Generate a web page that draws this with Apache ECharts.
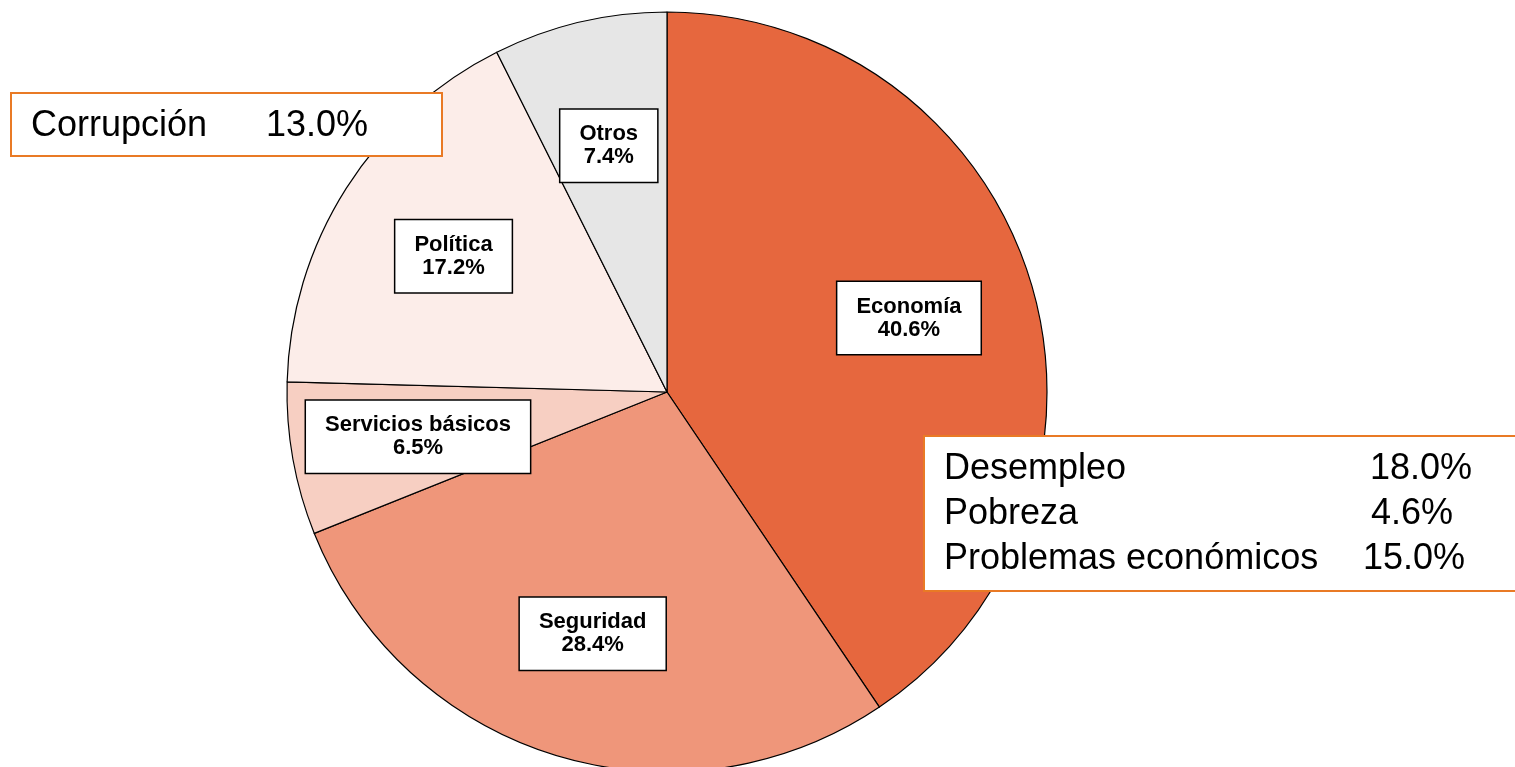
<!DOCTYPE html>
<html>
<head>
<meta charset="utf-8">
<style>
  html, body { margin: 0; padding: 0; background: #fff; }
  #chart { width: 1515px; height: 767px; }
</style>
<script src="https://cdn.jsdelivr.net/npm/echarts@6/dist/echarts.min.js"></script>
</head>
<body>
<div id="chart"></div>
<script>
// datos del gráfico
var categories = ['Economía', 'Seguridad', 'Servicios básicos', 'Política', 'Otros'];
var values = [40.6, 28.4, 6.5, 17.2, 7.4];
var sliceColors = ['#E6673E', '#EF967A', '#F7CFC2', '#FCEDE9', '#E6E6E6'];

// desglose de Política
var politicaItems = ['Corrupción'];
var politicaValues = [13.0];

// desglose de Economía
var economiaItems = ['Desempleo', 'Pobreza', 'Problemas económicos'];
var economiaValues = [18.0, 4.6, 15.0];

var FONT = '"Liberation Sans", Arial, sans-serif';
var ORANGE = '#E97A25';

var myChart = echarts.init(document.getElementById('chart'));

var pieData = categories.map(function (name, i) {
    return { name: name, value: values[i], itemStyle: { color: sliceColors[i] } };
});
// mismos datos sin color, para el anillo de etiquetas
var labelData = categories.map(function (name, i) {
    return { name: name, value: values[i] };
});

// textos de los cuadros de anotación
var graphics = [];
graphics.push({
    type: 'rect', z: 100,
    shape: { x: 11, y: 93, width: 431, height: 63 },
    style: { fill: '#fff', stroke: ORANGE, lineWidth: 2 }
});
politicaItems.forEach(function (name, i) {
    var y = 126 + i * 45;
    graphics.push({
        type: 'text', z: 101, x: 31, y: y,
        style: { text: name, font: '36px ' + FONT, fill: '#000', verticalAlign: 'middle' }
    });
    graphics.push({
        type: 'text', z: 101, x: 266, y: y,
        style: { text: politicaValues[i].toFixed(1) + '%', font: '36px ' + FONT, fill: '#000', verticalAlign: 'middle' }
    });
});

graphics.push({
    type: 'rect', z: 100,
    shape: { x: 924, y: 436, width: 620, height: 155 },
    style: { fill: '#fff', stroke: ORANGE, lineWidth: 2 }
});
var valueX = [1370, 1371, 1363];
economiaItems.forEach(function (name, i) {
    var y = 469 + i * 45;
    graphics.push({
        type: 'text', z: 101, x: 944, y: y,
        style: { text: name, font: '36px ' + FONT, fill: '#000', verticalAlign: 'middle' }
    });
    graphics.push({
        type: 'text', z: 101, x: valueX[i], y: y,
        style: { text: economiaValues[i].toFixed(1) + '%', font: '36px ' + FONT, fill: '#000', verticalAlign: 'middle' }
    });
});

var option = {
    backgroundColor: '#fff',
    animation: false,
    series: [
        {
            // pastel con los sectores
            type: 'pie',
            center: [667, 392],
            radius: [0, 380],
            startAngle: 90,
            clockwise: true,
            silent: true,
            data: pieData,
            itemStyle: { borderColor: '#000', borderWidth: 1.2 },
            label: { show: false },
            labelLine: { show: false },
            emphasis: { disabled: true }
        },
        {
            // anillo transparente, solo para colocar las etiquetas más afuera
            type: 'pie',
            center: [667, 392],
            radius: [120, 380],
            startAngle: 90,
            clockwise: true,
            silent: true,
            data: labelData,
            itemStyle: { color: 'rgba(0,0,0,0)', borderWidth: 0 },
            label: {
                show: true,
                position: 'inside',
                formatter: function (p) {
                    return p.name + '\n' + p.value.toFixed(1) + '%';
                },
                color: '#000',
                fontFamily: FONT,
                fontWeight: 'bold',
                fontSize: 22,
                lineHeight: 23,
                align: 'center',
                backgroundColor: '#fff',
                borderColor: '#000',
                borderWidth: 1.5,
                padding: [13, 19]
            },
            labelLine: { show: false },
            emphasis: { disabled: true }
        }
    ],
    graphic: graphics
};

myChart.setOption(option);
</script>
</body>
</html>
